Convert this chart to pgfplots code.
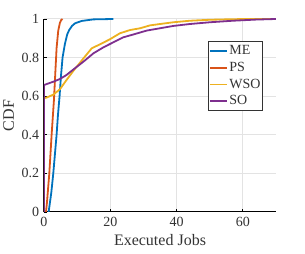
\documentclass[border=0pt]{standalone}
\usepackage{fontspec}
\setmainfont{Liberation Serif}
\usepackage{pgfplots}
\pgfplotsset{compat=1.18}
\definecolor{cME}{rgb}{0,0.447,0.741}
\definecolor{cPS}{rgb}{0.85,0.325,0.098}
\definecolor{cWSO}{rgb}{0.929,0.694,0.125}
\definecolor{cSO}{rgb}{0.494,0.184,0.556}
\begin{document}
\fontsize{14}{16}\selectfont
\begin{tikzpicture}
\path[use as bounding box] (-44pt,-42pt) rectangle (261pt,212pt);
\begin{axis}[
  at={(0,0)}, anchor=south west,
  scale only axis, width=232pt, height=193pt,
  xmin=0, xmax=70, ymin=0, ymax=1,
  xtick={0,20,40,60}, ytick={0,0.2,0.4,0.6,0.8,1},
  yticklabels={0,0.2,0.4,0.6,0.8,1},
  /pgf/number format/assume math mode=true,
  axis x line*=bottom, axis y line*=left,
  axis line style={-, black, line width=1pt},
  tick align=inside, major tick length=3pt,
  tick style={black, line width=0.8pt},
  grid=major, major grid style={gray!22, line width=1pt},
  tick label style={font=\fontsize{14}{16}\selectfont, text=black!80},
  xlabel={Executed Jobs}, ylabel={CDF},
  label style={font=\fontsize{16}{18}\selectfont, text=black!80},
  xlabel style={yshift=1pt},
  ylabel style={yshift=-2pt},
  legend style={at={(0.707,0.885)}, anchor=north west,
    draw=black!80, line width=1pt, fill=white,
    font=\fontsize{14}{16}\selectfont, text=black!80,
    inner xsep=0.5pt, inner ysep=1.5pt, row sep=1.5pt,
    nodes={inner xsep=1.5pt}},
  legend cell align=left,
  legend image code/.code={\draw[#1, line width=1.8pt] (0pt,0pt) -- (17pt,0pt);},
]
\addplot[cME, line width=1.8pt] coordinates {(1.4,0) (2.2,0.1) (2.8,0.2) (3.3,0.3) (3.8,0.4) (4.2,0.5) (4.7,0.6) (5.1,0.7) (5.6,0.8) (6.3,0.87) (7.0,0.92) (7.6,0.943) (8.5,0.965) (9.4,0.978) (11.4,0.99) (14.9,0.998) (20.9,1)};
\addplot[cPS, line width=1.8pt] coordinates {(0.6,0) (0.9,0.05) (1.6,0.2) (2.3,0.4) (3.0,0.58) (3.5,0.75) (3.8,0.85) (4.3,0.94) (4.8,0.98) (5.2,0.995) (5.6,1)};
\addplot[cWSO, line width=1.8pt] coordinates {(0,0) (0,0.59) (0.8,0.593) (2.8,0.608) (4.8,0.636) (6.8,0.684) (8.9,0.732) (11.9,0.796) (14.4,0.848) (16.9,0.869) (19.9,0.895) (22.9,0.926) (26,0.943) (29,0.952) (32,0.967) (35,0.974) (39,0.983) (44,0.991) (50,0.996) (57,0.999) (63,1.0) (70,1.0)};
\addplot[cSO, line width=1.8pt] coordinates {(0,0) (0,0.658) (2.8,0.675) (4.8,0.689) (6.8,0.71) (8.9,0.739) (11.9,0.779) (14.9,0.822) (17.9,0.853) (20.9,0.879) (23.9,0.905) (27,0.92) (31,0.94) (35,0.952) (39,0.964) (44,0.974) (50,0.983) (57,0.991) (64,0.997) (70,1.0)};
\legend{ME,PS,WSO,SO}
\end{axis}
\end{tikzpicture}
\end{document}
